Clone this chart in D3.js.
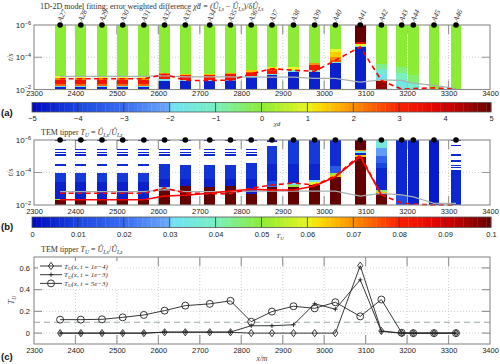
<!DOCTYPE html>
<html lang="en">
<head>
<meta charset="UTF-8" />
<title>TEM tipper profile</title>
<script src="https://d3js.org/d3.v7.min.js"></script>
<style>
  body { margin: 0; background: #fff; }
  svg { display: block; }
</style>
</head>
<body>
<svg width="500" height="364"></svg>
<script>
var stations = ["A27","A28","A29","A30","A31","A32","A33","A34","A35","A36",
  "A37","A38","A39","A40","A41","A42","A43","A44","A45","A46"];
var stationX = [2363,2413,2464,2514,2565,2615,2665,2724,2774,2824,
  2874,2926,2977,3027,3087,3138,3187,3215,3265,3318];

// chi-d columns: [log10(t) where the cell starts, value], each cell ends at the next start or 1e-2
var chiProfiles = [
  [[-6,0],[-2.81,1],[-2.74,2.2],[-2.6,3.3],[-2.33,2.4],[-2.21,-1.8],[-2.17,-4.6]],
  [[-6,0],[-2.81,1],[-2.74,2.2],[-2.6,3.3],[-2.33,2.4],[-2.21,-1.8],[-2.17,-4.6]],
  [[-6,0],[-2.81,1],[-2.74,2.2],[-2.6,3.3],[-2.33,2.4],[-2.21,-1.8],[-2.17,-4.6]],
  [[-6,0],[-2.81,1],[-2.74,2.2],[-2.6,3.3],[-2.33,2.4],[-2.21,-1.8],[-2.17,-4.6]],
  [[-6,0],[-2.81,1],[-2.74,2.2],[-2.6,3.3],[-2.33,2.4],[-2.21,-1.8],[-2.17,-4.6]],
  [[-6,0],[-3.02,2],[-2.94,3.2],[-2.65,-1.8],[-2.52,-4.6]],
  [[-6,0],[-2.94,1.5],[-2.88,3.2],[-2.56,-2],[-2.5,-4.6]],
  [[-6,0],[-2.94,1.5],[-2.88,3.2],[-2.56,-2],[-2.5,-4.6]],
  [[-6,0],[-3.0,2],[-2.94,3.3],[-2.58,-2.5],[-2.54,-4.6]],
  [[-6,0],[-3.19,1.5],[-3.1,2.6],[-3.0,3.3],[-2.81,-1.5],[-2.75,-4.6]],
  [[-6,0],[-3.4,1.2],[-3.3,2.8],[-3.15,3.3],[-2.95,-1.5],[-2.88,-4.6]],
  [[-6,0],[-3.4,1.0],[-3.19,-1.5],[-3.08,-4.6]],
  [[-6,0],[-3.63,2],[-3.5,3.2],[-3.19,-1.5],[-3.08,-4.6]],
  [[-6,0],[-4.54,1.0],[-4.3,1.4],[-4.02,2.0],[-3.85,2.6],[-3.71,-1],[-3.64,-4.6]],
  [[-6,5],[-4.96,3.5],[-4.82,1],[-4.72,-1.5],[-4.64,-4.6]],
  [[-6,0],[-3.6,-0.6],[-3.3,-1.3],[-2.95,-1.8],[-2.62,1],[-2.52,4.6]],
  [[-6,0],[-3.4,-0.5],[-3.0,-1],[-2.6,-1.6]],
  [[-6,0],[-2.9,-0.4],[-2.4,-1.2]],
  [[-6,0]],
  [[-6,0]]
];

// tipper columns, null = no value at that gate
var tipperProfiles = [
  [[-6,.004],[-5.93,null],[-5.46,.005],[-5.39,null],[-5.27,.005],[-5.2,null],[-5.11,.005],[-5.04,null],[-4.52,.006],[-4.4,null],[-3.95,.008],[-3.4,.004],[-2.38,.05],[-2.3,.12]],
  [[-6,.004],[-5.93,null],[-5.46,.005],[-5.39,null],[-5.27,.005],[-5.2,null],[-5.11,.005],[-5.04,null],[-4.52,.006],[-4.4,null],[-3.95,.008],[-3.4,.004],[-2.36,.03],[-2.3,.12]],
  [[-6,.004],[-5.93,null],[-5.46,.005],[-5.39,null],[-5.27,.005],[-5.2,null],[-5.11,.005],[-5.04,null],[-4.52,.006],[-4.4,null],[-3.95,.008],[-3.4,.004],[-2.36,.03],[-2.3,.12]],
  [[-6,.004],[-5.93,null],[-5.46,.005],[-5.39,null],[-5.27,.005],[-5.2,null],[-5.11,.005],[-5.04,null],[-4.52,.006],[-4.4,null],[-3.95,.008],[-3.4,.004],[-2.36,.03],[-2.3,.12]],
  [[-6,.004],[-5.93,null],[-5.46,.005],[-5.39,null],[-5.27,.005],[-5.2,null],[-5.11,.005],[-5.04,null],[-4.52,.006],[-4.4,null],[-3.95,.008],[-3.4,.004],[-2.36,.03],[-2.3,.12]],
  [[-6,.004],[-5.93,null],[-5.46,.005],[-5.39,null],[-5.27,.005],[-5.2,null],[-5.11,.005],[-5.04,null],[-4.5,.007],[-3.6,.004],[-3.1,.03],[-3.0,.12]],
  [[-6,.004],[-5.93,null],[-5.46,.005],[-5.39,null],[-5.27,.005],[-5.2,null],[-5.11,.005],[-5.04,null],[-4.46,.007],[-3.6,.004],[-3.15,.12]],
  [[-6,.004],[-5.93,null],[-5.46,.005],[-5.39,null],[-5.27,.005],[-5.2,null],[-5.11,.005],[-5.04,null],[-4.46,.007],[-3.6,.004],[-3.12,.12]],
  [[-6,.004],[-5.93,null],[-5.46,.005],[-5.39,null],[-5.27,.005],[-5.2,null],[-5.11,.005],[-5.04,null],[-4.46,.007],[-3.6,.004],[-3.2,.12]],
  [[-6,.004],[-5.93,null],[-5.46,.005],[-5.39,null],[-5.27,.005],[-5.2,null],[-5.11,.005],[-5.04,null],[-4.57,.007],[-3.6,.004],[-2.7,.12]],
  [[-6,.005],[-5.9,null],[-5.65,.008],[-4.5,.005],[-3.5,.012],[-3.2,.02],[-3.1,.12]],
  [[-6,.008],[-4.5,.005],[-3.34,.03],[-3.22,.05],[-3.1,.12]],
  [[-6,.008],[-4.5,.005],[-3.54,.03],[-3.4,.06],[-3.25,.12]],
  [[-6,.006],[-4.4,.015],[-3.95,.05],[-3.82,.065],[-3.7,.12]],
  [[-6,.12],[-5.38,.07],[-5.3,.035],[-5.18,.005],[-5.08,.065],[-4.97,.12]],
  [[-6,.035],[-5.5,.028],[-5.0,.018],[-4.6,.01],[-4.3,.005],[-2.92,.045],[-2.8,.065],[-2.72,.12]],
  [[-6,.005],[-2.6,.012]],
  [[-6,.004]],
  [[-6,.003]],
  [[-6,.004],[-5.93,null],[-5.72,.005],[-5.65,null],[-5.11,.005],[-5.04,null],[-4.77,.006],[-4.63,null],[-4.49,.006],[-4.42,null],[-4.34,.006],[-4.27,null],[-4.15,.005]]
];

// log10(t) curves drawn over the columns
var dashedA = [-2.67,-2.67,-2.67,-2.67,-2.67,-2.94,-2.56,-2.56,-2.58,-2.97,-3.29,-3.19,-3.13,-3.81,-4.64,-2.56,-2.02,-2.06,-2.1,-2.02];
var grayA = [-2.81,-2.81,-2.81,-2.81,-2.81,-2.86,-2.78,-2.78,-2.78,-2.77,-2.77,-2.77,-2.69,-2.69,-2.46,-2.6,-2.56,-2.4,-2.25,-2.06];
var dashedB = [-2.72,-2.72,-2.72,-2.72,-2.72,-3.05,-2.74,-2.7,-2.7,-3.03,-3.23,-3.35,-3.23,-3.78,-5.08,-2.62,-2.12,-2.06,-2.0,-2.0];
var solidB = [-2.32,-2.32,-2.32,-2.32,-2.32,-2.55,-2.6,-2.72,-2.86,-2.97,-2.92,-2.92,-3.17,-3.74,-4.97,-2.62,null,null,null,null];
var grayB = [-2.82,-2.82,-2.82,-2.82,-2.82,-2.95,-2.82,-2.82,-2.82,-2.85,-2.85,-2.85,-2.85,-2.85,-2.55,-2.72,-2.62,-2.5,-2.1,-2.1];

// tipper at three times
var tu1e4 = [0,0,0,0,0,0.008,0.008,0.008,0.008,0,0,0,0,0,0.62,0.02,0,0,0,0];
var tu1e3 = [0,0,0,0,0,0.01,0.01,0.01,0.01,0.068,0.068,0.077,0.27,0.22,0.49,0.015,0,0,0,0];
var tu5e3 = [0.124,0.124,0.127,0.145,0.167,0.207,0.253,0.269,0.297,0.105,0.198,0.247,0.228,0.284,0.154,0.309,0.003,0,0,0];

var xTicks = [2300,2400,2500,2600,2700,2800,2900,3000,3100,3200,3300,3400];
var chiTicks = [-5,-4,-3,-2,-1,0,1,2,3,4,5];
var tuTicks = [0,0.01,0.02,0.03,0.04,0.05,0.06,0.07,0.08,0.09,0.1];
var tuAxisTicks = [0,0.2,0.4,0.6];

var serif = '"Liberation Serif","DejaVu Serif",serif';
var sans = '"Liberation Sans",Arial,sans-serif';

var svg = d3.select("svg");
svg.append("rect").attr("width", 500).attr("height", 364).attr("fill", "#fff");

var x = d3.scaleLinear().domain([2300, 3400]).range([34, 490]);
var yA = d3.scaleLog().domain([1e-6, 1e-2]).range([25, 89.5]);
var yB = d3.scaleLog().domain([1e-6, 1e-2]).range([140, 205]);
var yC = d3.scaleLinear().domain([-0.1, 0.7]).range([344, 257]);
var halfW = 13;

var cmap = d3.scaleLinear()
  .domain([-5, -4, -3, -2.05, -2, -1, 0, 1, 1.3, 2, 3, 4, 5])
  .range(["#0008c0","#1a46e0","#3a6cf2","#6aa6f8","#70e0f8","#78f0c0","#8cec35",
          "#e8f520","#fcd800","#fc9000","#fc2000","#d80000","#640000"])
  .clamp(true);
var tuToChi = d3.scaleLinear().domain([0, 0.1]).range([-5, 5]);

function xAxis(yPos) {
  var ax = svg.append("g").attr("transform", "translate(0," + yPos + ")")
    .call(d3.axisBottom(x).tickValues(xTicks).tickSize(0).tickPadding(0).tickFormat(d3.format("d")));
  ax.select(".domain").remove();
  ax.selectAll("text").attr("font-size", "7.5px").attr("font-family", sans).attr("fill", "#222");
}

function gridAndTicks(y, top, bot, yVals) {
  var g = svg.append("g");
  g.selectAll(null).data(xTicks.slice(1, -1)).join("line")
    .attr("x1", d => x(d)).attr("x2", d => x(d)).attr("y1", top).attr("y2", bot)
    .attr("stroke", "#c4c4c4").attr("stroke-width", 0.8).attr("stroke-dasharray", "1,2");
  g.selectAll(null).data(yVals).join("line")
    .attr("x1", 34).attr("x2", 490).attr("y1", d => y(d)).attr("y2", d => y(d))
    .attr("stroke", "#c4c4c4").attr("stroke-width", 0.8).attr("stroke-dasharray", "1,2");
  g.selectAll(null).data(xTicks.slice(1, -1)).join("path")
    .attr("d", d => "M" + x(d) + "," + top + "v9M" + x(d) + "," + bot + "v-9")
    .attr("stroke", "#9a9a9a").attr("stroke-width", 1.2);
  g.selectAll(null).data(yVals).join("path")
    .attr("d", d => "M34," + y(d) + "h8M490," + y(d) + "h-8")
    .attr("stroke", "#9a9a9a").attr("stroke-width", 1.2);
}

function columns(y, profiles, toChi) {
  var g = svg.append("g").attr("shape-rendering", "crispEdges");
  profiles.forEach(function (p, i) {
    var x0 = x(stationX[i] - halfW), x1 = x(stationX[i] + halfW);
    p.forEach(function (seg, j) {
      if (seg[1] === null) return;
      var t0 = Math.pow(10, seg[0]);
      var t1 = Math.pow(10, j < p.length - 1 ? p[j + 1][0] : -2);
      g.append("rect").attr("x", x0).attr("width", x1 - x0)
        .attr("y", y(t0)).attr("height", Math.max(1, y(t1) - y(t0)))
        .attr("fill", cmap(toChi(seg[1])));
    });
  });
}

function curve(y, vals, color, width, dash) {
  var line = d3.line().defined(d => d !== null)
    .x((d, i) => x(stationX[i])).y(d => y(Math.pow(10, d)));
  svg.append("path").datum(vals).attr("d", line).attr("fill", "none")
    .attr("stroke", color).attr("stroke-width", width)
    .attr("stroke-dasharray", dash || null);
}

function timeAxisLabels(y) {
  [-6, -4, -2].forEach(function (e) {
    var t = svg.append("text").attr("x", 31).attr("y", y(Math.pow(10, e)) + 3)
      .attr("text-anchor", "end").attr("font-family", sans).attr("font-size", "8px").attr("fill", "#222");
    t.append("tspan").text("10");
    t.append("tspan").attr("dy", -3.5).attr("font-size", "5.5px").text("\u2212" + (-e));
  });
  svg.append("text").attr("transform", "translate(13," + y(1e-4) + ") rotate(-90)")
    .attr("text-anchor", "middle").attr("font-family", serif).attr("font-style", "italic")
    .attr("font-size", "8px").attr("fill", "#444").text("t/s");
}

function frame(top, bot) {
  svg.append("rect").attr("x", 34).attr("y", top).attr("width", 456).attr("height", bot - top)
    .attr("fill", "none").attr("stroke", "#8a8a8a").attr("stroke-width", 1.1);
}

function dots(y) {
  svg.append("g").selectAll("circle").data(stationX).join("circle")
    .attr("cx", d => x(d)).attr("cy", y(1e-6)).attr("r", 2.8).attr("fill", "#000");
}

function colorbar(top, bot, dom, ticks, fmt, label) {
  var cx = d3.scaleLinear().domain(dom).range([32, 491]);
  var g = svg.append("g");
  var steps = d3.range(100);
  var w = (491 - 32) / 100;
  g.selectAll("rect").data(steps).join("rect")
    .attr("x", d => 32 + d * w).attr("width", w + 0.3).attr("y", top).attr("height", bot - top)
    .attr("fill", d => cmap(-5 + (d + 0.5) * 0.1));
  g.selectAll("line").data(ticks.slice(1, -1)).join("line")
    .attr("x1", d => cx(d)).attr("x2", d => cx(d)).attr("y1", top).attr("y2", bot)
    .attr("stroke", "#333").attr("stroke-width", 0.8);
  g.append("rect").attr("x", 32).attr("y", top).attr("width", 459).attr("height", bot - top)
    .attr("fill", "none").attr("stroke", "#555").attr("stroke-width", 0.8);
  var ax = svg.append("g").attr("transform", "translate(0," + (bot + 4) + ")")
    .call(d3.axisBottom(cx).tickValues(ticks).tickSize(0).tickPadding(0).tickFormat(fmt));
  ax.select(".domain").remove();
  ax.selectAll("text").attr("font-size", "7.5px").attr("font-family", sans).attr("fill", "#222");
  return cx;
}

function panelTag(txt, yPos) {
  svg.append("text").attr("x", 1).attr("y", yPos).attr("font-family", sans)
    .attr("font-weight", "bold").attr("font-size", "9.5px").attr("fill", "#111").text(txt);
}

function tipperTitle(yPos) {
  var t = svg.append("text").attr("x", 41).attr("y", yPos).attr("font-family", serif)
    .attr("font-size", "8px").attr("fill", "#333");
  t.append("tspan").text("TEM tipper ");
  t.append("tspan").attr("font-style", "italic").text("T");
  t.append("tspan").attr("font-style", "italic").attr("font-size", "5.5px").attr("dy", 1.5).text("U");
  t.append("tspan").attr("dy", -1.5).text(" = ");
  t.append("tspan").attr("font-style", "italic").text("\u00DB");
  t.append("tspan").attr("font-style", "italic").attr("font-size", "5.5px").attr("dy", 1.5).text("I,x");
  t.append("tspan").attr("dy", -1.5).text("/");
  t.append("tspan").attr("font-style", "italic").text("\u00DB");
  t.append("tspan").attr("font-style", "italic").attr("font-size", "5.5px").attr("dy", 1.5).text("I,z");
}

// ---------- panel (a)
var ta = svg.append("text").attr("x", 40).attr("y", 9).attr("font-family", serif)
  .attr("font-size", "8px").attr("fill", "#333");
ta.append("tspan").text("1D-2D model fitting; error weighted difference ");
ta.append("tspan").attr("font-style", "italic").text("\u03C7\u0303d = (");
ta.append("tspan").attr("font-style", "italic").text("\u00DB");
ta.append("tspan").attr("font-style", "italic").attr("font-size", "5.5px").attr("dy", 1.5).text("I,s");
ta.append("tspan").attr("dy", -1.5).text(" \u2212 ");
ta.append("tspan").attr("font-style", "italic").text("\u00DB");
ta.append("tspan").attr("font-style", "italic").attr("font-size", "5.5px").attr("dy", 1.5).text("I,s");
ta.append("tspan").attr("dy", -1.5).text(")/\u03B4");
ta.append("tspan").attr("font-style", "italic").text("\u00DB");
ta.append("tspan").attr("font-style", "italic").attr("font-size", "5.5px").attr("dy", 1.5).text("I,s");

gridAndTicks(yA, 25, 89.5, [1e-4]);
columns(yA, chiProfiles, d => d);
curve(yA, grayA, "#a9b0b0", 1.2);
curve(yA, dashedA, "#ff0000", 1.6, "5,3.5");
frame(25, 89.5);
dots(yA);
timeAxisLabels(yA);
xAxis(91);
svg.append("g").selectAll("text").data(stations).join("text")
  .attr("transform", (d, i) => "translate(" + (x(stationX[i]) + 1.5) + ",22) rotate(-65)")
  .attr("font-family", serif).attr("font-style", "italic").attr("font-size", "7.5px")
  .attr("fill", "#333").text(d => d);

colorbar(102.5, 112, [-5, 5], chiTicks, d => d < 0 ? "\u2212" + (-d) : d);
svg.append("text").attr("x", 277).attr("y", 126).attr("text-anchor", "middle")
  .attr("font-family", serif).attr("font-style", "italic").attr("font-size", "7px")
  .attr("fill", "#333").text("\u03C7d");
panelTag("(a)", 116);

// ---------- panel (b)
tipperTitle(135);
gridAndTicks(yB, 140, 205, [1e-4]);
columns(yB, tipperProfiles, tuToChi);
curve(yB, grayB, "#a9b0b0", 1.2);
curve(yB, dashedB, "#ff0000", 1.6, "5,3.5");
curve(yB, solidB, "#ff0000", 1.6);
frame(140, 205);
dots(yB);
timeAxisLabels(yB);
xAxis(208.5);

colorbar(217, 227.5, [0, 0.1], tuTicks, d => d === 0 ? "0" : d3.format("")(+d.toFixed(2)));
var tb = svg.append("text").attr("x", 280).attr("y", 238).attr("text-anchor", "middle")
  .attr("font-family", serif).attr("font-style", "italic").attr("font-size", "7px").attr("fill", "#333");
tb.append("tspan").text("T");
tb.append("tspan").attr("font-size", "5px").attr("dy", 1.5).text("U");
panelTag("(b)", 230);

// ---------- panel (c)
tipperTitle(252);
gridAndTicks(yC, 257, 344, tuAxisTicks);
svg.append("line").attr("x1", 34).attr("x2", 490).attr("y1", yC(0.1)).attr("y2", yC(0.1))
  .attr("stroke", "#9aa8a8").attr("stroke-width", 1.2).attr("stroke-dasharray", "6,4");
frame(257, 344);

var lineC = d3.line().x((d, i) => x(stationX[i])).y(d => yC(d));
var series = [
  { vals: tu1e4, mark: "diamond", label: "1e\u22124" },
  { vals: tu1e3, mark: "plus", label: "1e\u22123" },
  { vals: tu5e3, mark: "circle", label: "5e\u22123" }
];

function marker(g, type, cx, cy) {
  if (type === "diamond") {
    g.append("path").attr("d", "M" + cx + "," + (cy - 3.6) + "l2.6,3.6l-2.6,3.6l-2.6,-3.6z")
      .attr("fill", "none").attr("stroke", "#222").attr("stroke-width", 0.9);
  } else if (type === "plus") {
    g.append("path").attr("d", "M" + (cx - 2.2) + "," + cy + "h4.4M" + cx + "," + (cy - 2.2) + "v4.4")
      .attr("stroke", "#222").attr("stroke-width", 0.9);
  } else {
    g.append("circle").attr("cx", cx).attr("cy", cy).attr("r", 3.5)
      .attr("fill", "none").attr("stroke", "#222").attr("stroke-width", 0.9);
  }
}

series.forEach(function (s) {
  svg.append("path").datum(s.vals).attr("d", lineC).attr("fill", "none")
    .attr("stroke", "#222").attr("stroke-width", 0.9);
  var g = svg.append("g");
  s.vals.forEach(function (v, i) { marker(g, s.mark, x(stationX[i]), yC(v)); });
});

var leg = svg.append("g");
leg.append("rect").attr("x", 38).attr("y", 261).attr("width", 80).attr("height", 28).attr("fill", "#fff");
series.forEach(function (s, i) {
  var ly = 266 + i * 8.7;
  leg.append("line").attr("x1", 40).attr("x2", 62).attr("y1", ly).attr("y2", ly)
    .attr("stroke", "#222").attr("stroke-width", 0.9);
  marker(leg, s.mark, 51, ly);
  var t = leg.append("text").attr("x", 64).attr("y", ly + 2.5).attr("font-family", serif)
    .attr("font-style", "italic").attr("font-size", "7px").attr("fill", "#333");
  t.append("tspan").text("T");
  t.append("tspan").attr("font-size", "5px").attr("dy", 1.5).text("U");
  t.append("tspan").attr("dy", -1.5).text("(x, t = " + s.label + ")");
});

svg.append("g").selectAll("text").data(tuAxisTicks).join("text")
  .attr("x", 30).attr("y", d => yC(d) + 2.7).attr("text-anchor", "end")
  .attr("font-family", sans).attr("font-size", "7.5px").attr("fill", "#222")
  .text(d => d === 0 ? "0" : d.toFixed(1));
var ty = svg.append("text").attr("transform", "translate(14,300) rotate(-90)")
  .attr("text-anchor", "middle").attr("font-family", serif).attr("font-style", "italic")
  .attr("font-size", "8px").attr("fill", "#444");
ty.append("tspan").text("T");
ty.append("tspan").attr("font-size", "5.5px").attr("dy", 1.5).text("U");
xAxis(347.5);
svg.append("text").attr("x", 262).attr("y", 361).attr("text-anchor", "middle")
  .attr("font-family", serif).attr("font-style", "italic").attr("font-size", "7.5px")
  .attr("fill", "#444").text("x/m");
panelTag("(c)", 360);
</script>
</body>
</html>
